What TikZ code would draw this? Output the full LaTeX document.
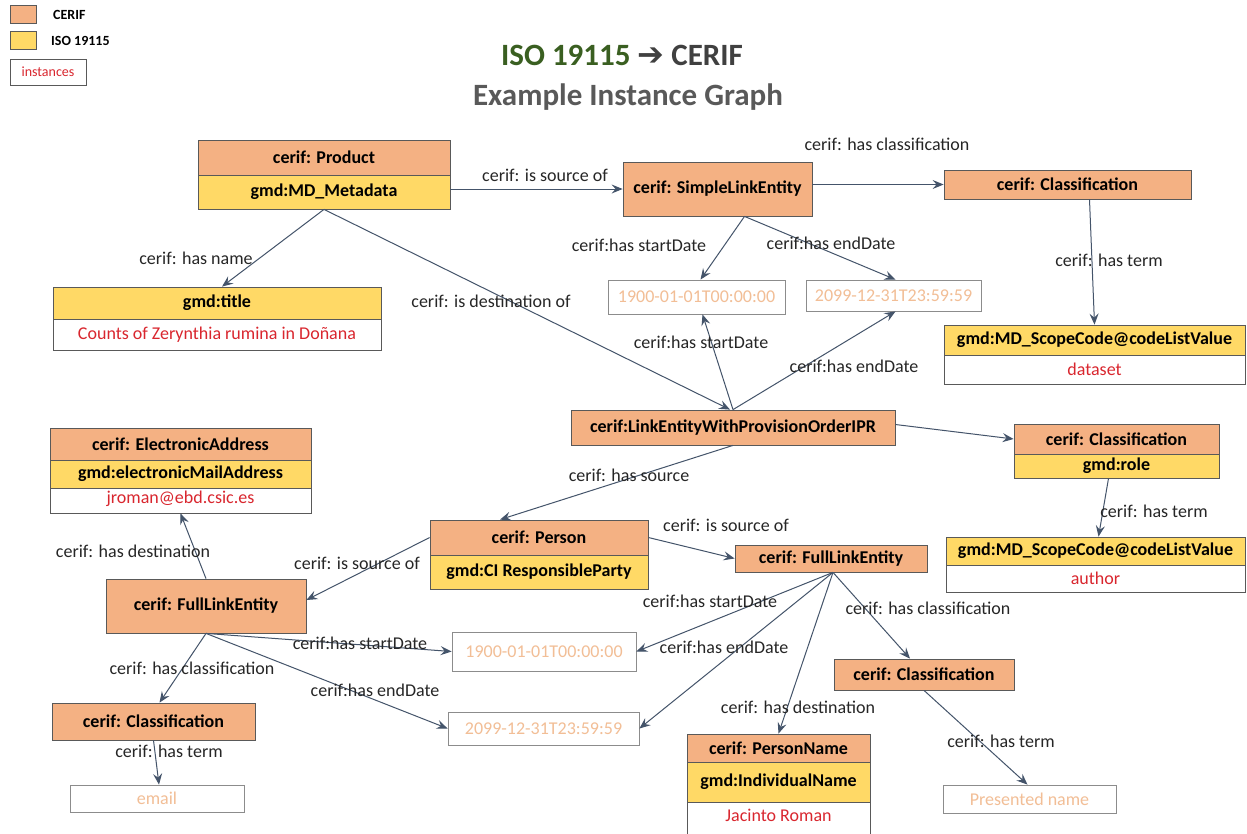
\documentclass[tikz,border=0pt]{standalone}
\usepackage{fontspec}
\setmainfont{Carlito}
\newfontfamily\arrowfont{DejaVu Sans}
\usetikzlibrary{arrows.meta}
\definecolor{cerifc}{HTML}{F4B183}
\definecolor{isoc}{HTML}{FFD966}
\definecolor{bordc}{HTML}{595959}
\definecolor{dbordc}{HTML}{8C8C8C}
\definecolor{arrc}{HTML}{44546A}
\definecolor{redc}{HTML}{D9262E}
\definecolor{datec}{HTML}{F2BE96}
\definecolor{labc}{HTML}{262626}
\definecolor{titg}{HTML}{3A5F21}
\definecolor{titd}{HTML}{404040}
\definecolor{tits}{HTML}{595959}
\tikzset{
  cerifbox/.style={draw=bordc, fill=cerifc, line width=0.8pt, inner sep=0pt, text=black,
    font=\bfseries\fontsize{18}{21}\selectfont},
  isobox/.style={draw=bordc, fill=isoc, line width=0.8pt, inner sep=0pt, text=black,
    font=\bfseries\fontsize{18}{21}\selectfont},
  instbox/.style={draw=bordc, fill=white, line width=0.8pt, inner sep=0pt, text=redc,
    font=\fontsize{18}{21}\selectfont},
  datebox/.style={draw=dbordc, fill=white, line width=0.8pt, inner sep=0pt, text=datec,
    font=\fontsize{18}{21}\selectfont},
  lbl/.style={text=labc, inner sep=0pt, font=\fontsize{18}{21}\selectfont},
  arr/.style={draw=arrc, line width=1pt, -{Stealth[length=11pt,width=9pt,inset=4pt]}},
  legsw/.style={draw=bordc, line width=0.8pt, inner sep=0pt, minimum width=26, minimum height=18},
  legtxt/.style={inner sep=0pt, text=black, font=\bfseries\fontsize{14}{16}\selectfont},
}
\begin{document}
\begin{tikzpicture}[x=1pt,y=-1pt]
\fill[white] (0,0) rectangle (1247,833);
\useasboundingbox (0,0) rectangle (1247,833);

% legend
\node[legsw, fill=cerifc] (lgc) at (23,14) {};
\node[legtxt, anchor=west] (lgct) at (53,15) {CERIF};
\node[legsw, fill=isoc] (lgi) at (23,40.5) {};
\node[legtxt, anchor=west] (lgit) at (51,41) {ISO 19115};
\node[draw=bordc, line width=0.8pt, fill=white, text=redc, inner sep=0pt, minimum width=76, minimum height=26,
  font=\fontsize{14}{16}\selectfont] (lgn) at (48,72) {instances};

% title
\node[inner sep=0pt, text=titd, font=\bfseries\fontsize{31}{36}\selectfont] (tt1) at (622,55)
  {{\color{titg}ISO 19115} {\arrowfont\bfseries\fontsize{32}{36}\selectfont ➔} CERIF};
\node[inner sep=0pt, text=tits, font=\bfseries\fontsize{31}{36}\selectfont] (tt2) at (628,97) {Example Instance Graph};

% nodes
\node[cerifbox, minimum width=252, minimum height=35] (prod) at (324,157.5) {cerif: Product};
\node[isobox, minimum width=252, minimum height=34] (prodg) at (324,192) {gmd:MD\_Metadata};

\node[cerifbox, minimum width=189, minimum height=54] (sle) at (717.5,189) {cerif: SimpleLinkEntity};
\node[cerifbox, minimum width=247, minimum height=29] (cl1) at (1067.5,184.5) {cerif: Classification};

\node[isobox, minimum width=328, minimum height=32] (ttlh) at (217,303) {gmd:title};
\node[instbox, minimum width=328, minimum height=31] (ttlv) at (217,334.5) {Counts of Zerynthia rumina in Doñana};

\node[datebox, minimum width=177, minimum height=34] (d1a) at (696.5,297) {1900-01-01T00:00:00};
\node[datebox, minimum width=175, minimum height=31] (d1b) at (893.5,295.5) {2099-12-31T23:59:59};

\node[isobox, minimum width=301, minimum height=30] (sc1h) at (1094.5,340) {gmd:MD\_ScopeCode@codeListValue};
\node[instbox, minimum width=301, minimum height=29] (sc1v) at (1094.5,369.5) {dataset};

\node[cerifbox, minimum width=324, minimum height=35] (lep) at (733,427.5) {cerif:LinkEntityWithProvisionOrderIPR};

\node[cerifbox, minimum width=205, minimum height=30] (cl2) at (1116.5,439) {cerif: Classification};
\node[isobox, minimum width=205, minimum height=24] (cl2g) at (1116.5,466) {gmd:role};

\node[cerifbox, minimum width=261, minimum height=32] (ea) at (180.5,444) {cerif: ElectronicAddress};
\node[isobox, minimum width=261, minimum height=28] (eag) at (180.5,474) {gmd:electronicMailAddress};
\node[instbox, minimum width=261, minimum height=25, text depth=6pt] (eav) at (180.5,500.5) {jroman@ebd.csic.es};

\node[cerifbox, minimum width=218, minimum height=35] (per) at (539,537.5) {cerif: Person};
\node[isobox, minimum width=218, minimum height=34] (perg) at (539,572) {gmd:CI ResponsibleParty};

\node[cerifbox, minimum width=192, minimum height=27] (fle2) at (831,558.5) {cerif: FullLinkEntity};

\node[isobox, minimum width=299, minimum height=28] (sc2h) at (1095.5,551) {gmd:MD\_ScopeCode@codeListValue};
\node[instbox, minimum width=299, minimum height=27] (sc2v) at (1095.5,578.5) {author};

\node[cerifbox, minimum width=200, minimum height=54] (fle1) at (206,606) {cerif: FullLinkEntity};

\node[datebox, minimum width=184, minimum height=39] (d2a) at (544,651.5) {1900-01-01T00:00:00};
\node[datebox, minimum width=191, minimum height=33] (d2b) at (543.5,728.5) {2099-12-31T23:59:59};

\node[cerifbox, minimum width=180, minimum height=31] (cl3) at (924,674.5) {cerif: Classification};
\node[cerifbox, minimum width=203, minimum height=37] (cl4) at (153.5,721.5) {cerif: Classification};

\node[datebox, minimum width=174, minimum height=27] (email) at (157,798.5) {email};

\node[cerifbox, minimum width=183, minimum height=28] (pn) at (778.5,748) {cerif: PersonName};
\node[isobox, minimum width=183, minimum height=40] (png) at (778.5,782) {gmd:IndividualName};
\node[instbox, minimum width=183, minimum height=40, anchor=north] (pnv) at (778.5,802) {};
\node[inner sep=0pt, text=redc, font=\fontsize{18}{21}\selectfont] (pnvt) at (778.5,815) {Jacinto Roman};

\node[datebox, minimum width=173, minimum height=28] (pres) at (1029.5,799) {Presented name};

% connectors
\draw[arr] (prodg.east |- sle.west) -- (sle.west);
\draw[arr] (sle.east |- cl1.west) -- (cl1.west);
\draw[arr] (prodg.south) -- ([xshift=5]ttlh.north);
\draw[arr] (prodg.south) -- ([xshift=-3]lep.north);
\draw[arr] ([xshift=27]sle.south) -- ([xshift=4]d1a.north);
\draw[arr] ([xshift=27]sle.south) -- ([xshift=2]d1b.north);
\draw[arr] (lep.north) -- ([xshift=6]d1a.south);
\draw[arr] (lep.north) -- ([xshift=2]d1b.south);
\draw[arr] ([xshift=22]cl1.south) -- (sc1h.north);
\draw[arr] ([yshift=3]lep.east) -- (cl2.west);
\draw[arr] ([xshift=-8]cl2g.south) -- ([xshift=3]sc2h.north);
\draw[arr] (lep.south) -- ([xshift=-39]per.north);
\draw[arr] (per.east) -- (fle2.west);
\draw[arr] (per.west) -- ([yshift=6]fle1.east);
\draw[arr] (fle1.north) -- (eav.south);
\draw[arr] (fle1.south) -- ([xshift=6]cl4.north);
\draw[arr] (fle1.south) -- (d2a.west);
\draw[arr] (fle1.south) -- (d2b.west);
\draw[arr] (cl4.south) -- ([xshift=2]email.north);
\draw[arr] ([xshift=2]fle2.south) -- (d2a.east);
\draw[arr] ([xshift=2]fle2.south) -- (d2b.east);
\draw[arr] ([xshift=2]fle2.south) -- (pn.north);
\draw[arr] ([xshift=2]fle2.south) -- ([xshift=-14]cl3.north);
\draw[arr] (cl3.south) -- ([xshift=-2]pres.north);

% labels
\node[lbl] (l1) at (545,175) {cerif: is source of};
\node[lbl] (l2) at (887,144) {cerif: has classification};
\node[lbl] (l3) at (196,258) {cerif: has name};
\node[lbl] (l4) at (491,301) {cerif: is destination of};
\node[lbl] (l5) at (639,245) {cerif:has startDate};
\node[lbl] (l6) at (831,243) {cerif:has endDate};
\node[lbl] (l7) at (701,342) {cerif:has startDate};
\node[lbl] (l8) at (854,366) {cerif:has endDate};
\node[lbl] (l9) at (1109,260) {cerif: has term};
\node[lbl] (l10) at (629,475) {cerif: has source};
\node[lbl] (l11) at (1154,511) {cerif: has term};
\node[lbl] (l12) at (726,525) {cerif: is source of};
\node[lbl] (l13) at (357,563) {cerif: is source of};
\node[lbl] (l14) at (133,551) {cerif: has destination};
\node[lbl] (l15) at (192,668) {cerif: has classification};
\node[lbl] (l16) at (360,643) {cerif:has startDate};
\node[lbl] (l17) at (375,690) {cerif:has endDate};
\node[lbl] (l18) at (169,751) {cerif: has term};
\node[lbl] (l19) at (710,601) {cerif:has startDate};
\node[lbl] (l20) at (724,647) {cerif:has endDate};
\node[lbl] (l21) at (798,707) {cerif: has destination};
\node[lbl] (l22) at (928,608) {cerif: has classification};
\node[lbl] (l23) at (1001,741) {cerif: has term};
\end{tikzpicture}
\end{document}
